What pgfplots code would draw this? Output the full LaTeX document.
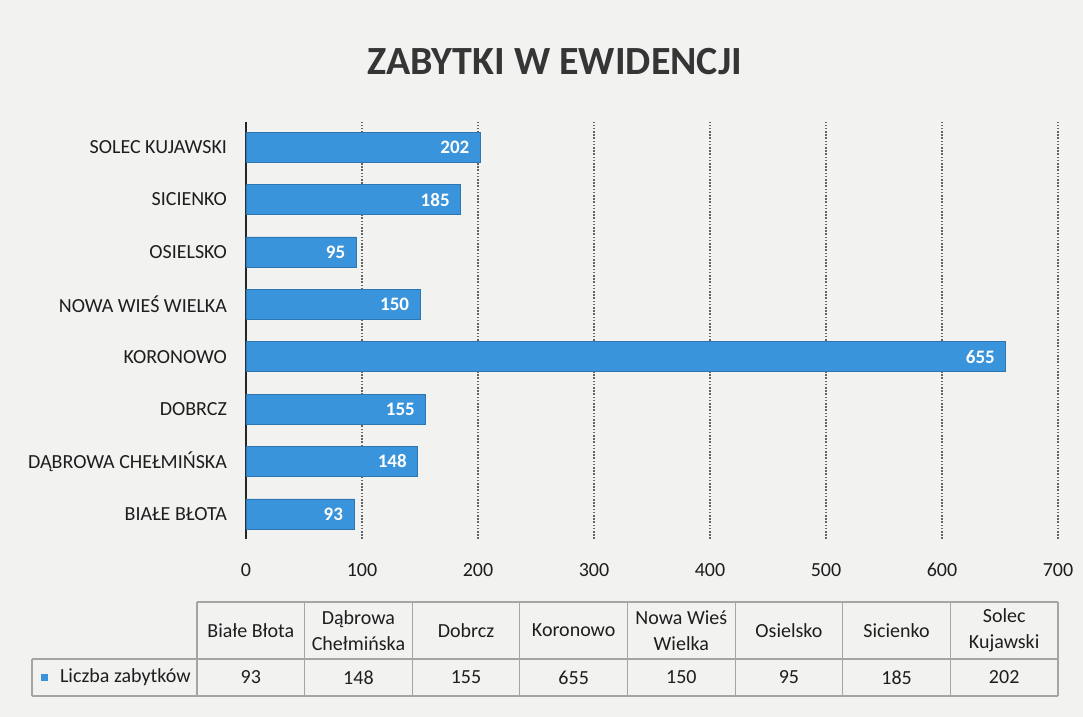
\documentclass[border=0pt]{standalone}
\usepackage{fontspec}
\setmainfont{Carlito}
\usepackage{pgfplots}
\pgfplotsset{compat=1.18}
\definecolor{bg}{RGB}{242,242,241}
\definecolor{barblue}{RGB}{58,148,219}
\definecolor{txt}{RGB}{30,30,30}
\definecolor{tab}{RGB}{165,165,165}
\begin{document}
\begin{tikzpicture}[x=1pt,y=1pt]
\path[use as bounding box, fill=bg] (0,0) rectangle (541.5,358.5);
\node[font=\fontsize{20}{24}\selectfont\bfseries, text=txt!90!white] at (277.5,327.5) {ZABYTKI W EWIDENCJI};
\begin{axis}[
  at={(123pt,89pt)}, anchor=south west,
  scale only axis, width=406pt, height=208.5pt,
  xmin=0, xmax=700, ymin=-0.48, ymax=7.48,
  xtick={0,100,...,700},
  ytick={0,...,7},
  yticklabels={BIAŁE BŁOTA,DĄBROWA CHEŁMIŃSKA,DOBRCZ,KORONOWO,NOWA WIEŚ WIELKA,OSIELSKO,SICIENKO,SOLEC KUJAWSKI},
  axis lines=left,
  x axis line style={draw=none},
  y axis line style={-, line width=1.3pt, black!85},
  major tick length=0pt,
  xmajorgrids,
  major grid style={dash pattern=on 0.8pt off 0.8pt, line width=0.6pt, black!60},
  /pgf/number format/assume math mode=true,
  tick label style={font=\fontsize{10}{12}\selectfont, text=txt},
  xticklabel style={yshift=-8.5pt},
  yticklabel style={xshift=-6pt},
  xbar, bar width=15pt,
  point meta=x,
  nodes near coords,
  nodes near coords align={anchor=east},
  every node near coord/.append style={anchor=east, text=white, font=\fontsize{9.5}{11}\selectfont\bfseries, xshift=-2pt},
  clip=false,
]
\addplot[fill=barblue, draw=barblue!80!black, line width=0.3pt] coordinates {
  (93,0) (148,1) (155,2) (655,3) (150,4) (95,5) (185,6) (202,7)
};
\end{axis}
% data table
\begin{scope}[draw=tab, line width=0.6pt]
\draw (98.5,57.5) -- (529,57.5);
\draw (16,29) -- (529,29);
\draw (16,10.5) -- (529,10.5);
\draw (16,29) -- (16,10.5);
\foreach \i in {0,...,8} { \draw ({98.5+\i*53.8125},57.5) -- ({98.5+\i*53.8125},10.5); }
\end{scope}
\foreach \n [count=\i from 0] in {{Białe Błota},{Dąbrowa\\Chełmińska},{Dobrcz},{Koronowo},{Nowa Wieś\\Wielka},{Osielsko},{Sicienko},{Solec\\Kujawski}} {
  \node[font=\fontsize{10}{13}\selectfont, text=txt, align=center] at ({98.5+(\i+0.5)*53.8125},43.25) {\n};
}
\foreach \v [count=\i from 0] in {93,148,155,655,150,95,185,202} {
  \node[font=\fontsize{10}{12}\selectfont, text=txt] at ({98.5+(\i+0.5)*53.8125},19.75) {\v};
}
\node[font=\fontsize{10}{12}\selectfont, text=txt, anchor=west] at (26.5,19.75) {Liczba zabytków};
\fill[barblue] (20.5,18) rectangle (24,21.5);
\end{tikzpicture}
\end{document}
